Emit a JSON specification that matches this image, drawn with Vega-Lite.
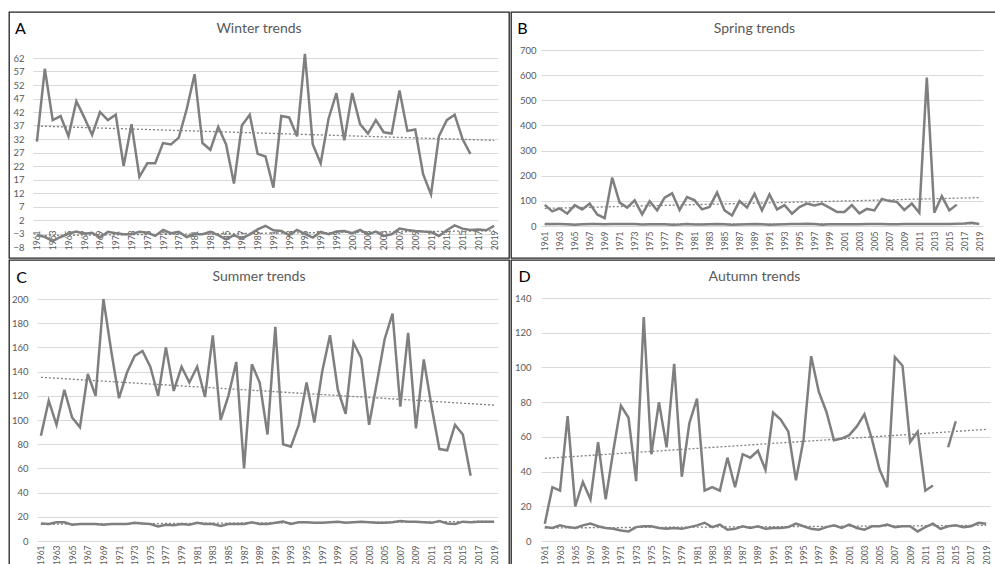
{
"$schema": "https://vega.github.io/schema/vega-lite/v6.json",
"padding": {"left": 8, "top": 11, "right": 0, "bottom": 0},
"background": "white",
"spacing": 0,
"config": {
  "font": "Lato",
  "view": {"stroke": "#222222", "strokeWidth": 1.3},
  "concat": {"spacing": 0},
  "title": {"fontSize": 14, "font": "Lato", "fontWeight": "normal", "color": "#595959", "anchor": "middle"},
  "axis": {"labelFont": "Lato", "labelColor": "#595959", "labelFontSize": 9.5, "ticks": false, "domain": false, "gridColor": "#d9d9d9", "gridWidth": 1, "labelOverlap": false, "labelFlush": false},
  "axisY": {"titleFont": "Lato", "titleFontSize": 16, "titleColor": "#000000", "titleFontWeight": "normal", "titleAlign": "center", "titleBaseline": "middle", "titleAngle": 0},
  "line": {"color": "#808080"}
},
"datasets": {
  "winter": [
{"y":1961,"m":31,"b":-3.5},{"y":1962,"m":58,"b":-4.3},{"y":1963,"m":39,"b":-5.8},{"y":1964,"m":40.5,"b":-4.3},{"y":1965,"m":33,"b":-3.1},{"y":1966,"m":46,"b":-2.3},{"y":1967,"m":40,"b":-3.1},{"y":1968,"m":33.5,"b":-2.7},{"y":1969,"m":42,"b":-4.5},{"y":1970,"m":39,"b":-2.4},
{"y":1971,"m":41,"b":-2.9},{"y":1972,"m":22,"b":-3.3},{"y":1973,"m":37.5,"b":-3.3},{"y":1974,"m":18,"b":-2.4},{"y":1975,"m":23,"b":-2.7},{"y":1976,"m":23,"b":-3.9},{"y":1977,"m":30.5,"b":-1.7},{"y":1978,"m":30,"b":-2.9},{"y":1979,"m":32.5,"b":-2.4},{"y":1980,"m":43,"b":-4.3},
{"y":1981,"m":56,"b":-3.3},{"y":1982,"m":30.5,"b":-3.3},{"y":1983,"m":28,"b":-2.4},{"y":1984,"m":36.5,"b":-3.6},{"y":1985,"m":30,"b":-5.2},{"y":1986,"m":15.5,"b":-3.6},{"y":1987,"m":37,"b":-4.8},{"y":1988,"m":41,"b":-3.3},{"y":1989,"m":26.5,"b":-1.5},{"y":1990,"m":25.5,"b":-0.2},
{"y":1991,"m":14,"b":-1.8},{"y":1992,"m":40.5,"b":-2.1},{"y":1993,"m":40,"b":-3.6},{"y":1994,"m":33,"b":-1.7},{"y":1995,"m":63.5,"b":-3.1},{"y":1996,"m":30,"b":-4.5},{"y":1997,"m":23,"b":-2.4},{"y":1998,"m":39.5,"b":-3.3},{"y":1999,"m":49,"b":-2.3},{"y":2000,"m":31.5,"b":-2.1},
{"y":2001,"m":49,"b":-2.9},{"y":2002,"m":37.5,"b":-1.7},{"y":2003,"m":34,"b":-3.3},{"y":2004,"m":39,"b":-2.3},{"y":2005,"m":34.5,"b":-3.9},{"y":2006,"m":34,"b":-3.3},{"y":2007,"m":50,"b":-1.2},{"y":2008,"m":35,"b":-1.7},{"y":2009,"m":35.5,"b":-2.1},{"y":2010,"m":19,"b":-2.3},
{"y":2011,"m":11.5,"b":-2.4},{"y":2012,"m":33,"b":-3.9},{"y":2013,"m":39,"b":-1.8},{"y":2014,"m":41,"b":0},{"y":2015,"m":32,"b":-1.2},{"y":2016,"m":26.5,"b":-1.7},{"y":2017,"m":null,"b":-1.5},{"y":2018,"m":null,"b":-1.8},{"y":2019,"m":null,"b":-0.2}
  ],
  "winterT": [{"y":1961,"m":36.8,"b":-3.8},{"y":2019,"m":31.5,"b":-2.0}],
  "spring": [
{"y":1961,"m":84,"b":8},{"y":1962,"m":58,"b":8},{"y":1963,"m":70,"b":8},{"y":1964,"m":49,"b":7},{"y":1965,"m":83,"b":5},{"y":1966,"m":66,"b":7},{"y":1967,"m":89,"b":8},{"y":1968,"m":46,"b":8},{"y":1969,"m":31,"b":7},{"y":1970,"m":192,"b":8},
{"y":1971,"m":93,"b":8},{"y":1972,"m":73,"b":8},{"y":1973,"m":102,"b":8},{"y":1974,"m":46,"b":6},{"y":1975,"m":99,"b":7},{"y":1976,"m":62,"b":7},{"y":1977,"m":113,"b":7},{"y":1978,"m":130,"b":5},{"y":1979,"m":64,"b":6},{"y":1980,"m":115,"b":8},
{"y":1981,"m":102,"b":6},{"y":1982,"m":66,"b":6},{"y":1983,"m":76,"b":7},{"y":1984,"m":133,"b":8},{"y":1985,"m":62,"b":7},{"y":1986,"m":42,"b":5},{"y":1987,"m":99,"b":6},{"y":1988,"m":73,"b":7},{"y":1989,"m":128,"b":8},{"y":1990,"m":62,"b":7},
{"y":1991,"m":126,"b":5},{"y":1992,"m":66,"b":6},{"y":1993,"m":83,"b":7},{"y":1994,"m":49,"b":8},{"y":1995,"m":75,"b":8},{"y":1996,"m":89,"b":9},{"y":1997,"m":82,"b":8},{"y":1998,"m":89,"b":5},{"y":1999,"m":73,"b":7},{"y":2000,"m":56,"b":7},
{"y":2001,"m":56,"b":7},{"y":2002,"m":83,"b":7},{"y":2003,"m":50,"b":7},{"y":2004,"m":68,"b":8},{"y":2005,"m":62,"b":8},{"y":2006,"m":108,"b":8},{"y":2007,"m":99,"b":7},{"y":2008,"m":96,"b":7},{"y":2009,"m":64,"b":8},{"y":2010,"m":89,"b":8},
{"y":2011,"m":53,"b":8},{"y":2012,"m":590,"b":8},{"y":2013,"m":53,"b":8},{"y":2014,"m":119,"b":8},{"y":2015,"m":62,"b":8},{"y":2016,"m":85,"b":9},{"y":2017,"m":null,"b":10},{"y":2018,"m":null,"b":13},{"y":2019,"m":null,"b":8}
  ],
  "springT": [{"y":1961,"m":70,"b":6},{"y":2019,"m":113,"b":9}],
  "summer": [
{"y":1961,"m":87,"b":14.5},{"y":1962,"m":116,"b":14},{"y":1963,"m":96,"b":15.5},{"y":1964,"m":125,"b":15.5},{"y":1965,"m":102,"b":13.5},{"y":1966,"m":94,"b":14},{"y":1967,"m":138,"b":14},{"y":1968,"m":120,"b":14},{"y":1969,"m":200,"b":13.5},{"y":1970,"m":157,"b":14},
{"y":1971,"m":118,"b":14},{"y":1972,"m":139,"b":14},{"y":1973,"m":153,"b":15},{"y":1974,"m":157,"b":14.5},{"y":1975,"m":144,"b":14},{"y":1976,"m":120,"b":12},{"y":1977,"m":160,"b":13.5},{"y":1978,"m":124,"b":13},{"y":1979,"m":144,"b":14},{"y":1980,"m":131,"b":13.5},
{"y":1981,"m":144,"b":15},{"y":1982,"m":119,"b":14},{"y":1983,"m":170,"b":14},{"y":1984,"m":100,"b":12.5},{"y":1985,"m":120,"b":14},{"y":1986,"m":148,"b":14},{"y":1987,"m":60,"b":14},{"y":1988,"m":146,"b":15.5},{"y":1989,"m":131,"b":14},{"y":1990,"m":88,"b":14},
{"y":1991,"m":177,"b":15},{"y":1992,"m":80,"b":16},{"y":1993,"m":78,"b":14},{"y":1994,"m":96,"b":15.5},{"y":1995,"m":131,"b":15.5},{"y":1996,"m":98,"b":15},{"y":1997,"m":140,"b":15},{"y":1998,"m":170,"b":15.5},{"y":1999,"m":125,"b":16},{"y":2000,"m":105,"b":15},
{"y":2001,"m":164,"b":15.5},{"y":2002,"m":151,"b":16},{"y":2003,"m":96,"b":15.5},{"y":2004,"m":131,"b":15},{"y":2005,"m":167,"b":15},{"y":2006,"m":188,"b":15.5},{"y":2007,"m":111,"b":16.5},{"y":2008,"m":172,"b":16},{"y":2009,"m":93,"b":16},{"y":2010,"m":150,"b":15.5},
{"y":2011,"m":111,"b":15},{"y":2012,"m":76,"b":16.5},{"y":2013,"m":75,"b":14.5},{"y":2014,"m":96,"b":14},{"y":2015,"m":88,"b":16},{"y":2016,"m":54,"b":15.5},{"y":2017,"m":null,"b":16},{"y":2018,"m":null,"b":16},{"y":2019,"m":null,"b":16}
  ],
  "summerT": [{"y":1961,"m":135.3,"b":13.8},{"y":2019,"m":112.3,"b":16.2}],
  "autumn": [
{"y":1961,"m":10,"b":8},{"y":1962,"m":31,"b":7.5},{"y":1963,"m":29,"b":9},{"y":1964,"m":72,"b":8},{"y":1965,"m":20,"b":7.5},{"y":1966,"m":34,"b":9},{"y":1967,"m":24,"b":10},{"y":1968,"m":57,"b":8.5},{"y":1969,"m":24,"b":7.5},{"y":1970,"m":52,"b":7},
{"y":1971,"m":78,"b":6},{"y":1972,"m":71,"b":5.5},{"y":1973,"m":34.5,"b":8},{"y":1974,"m":129,"b":8.5},{"y":1975,"m":50,"b":8.5},{"y":1976,"m":80,"b":7.5},{"y":1977,"m":54,"b":7},{"y":1978,"m":102,"b":7.5},{"y":1979,"m":37,"b":7},{"y":1980,"m":68,"b":8},
{"y":1981,"m":82,"b":9},{"y":1982,"m":29,"b":10.5},{"y":1983,"m":31,"b":8},{"y":1984,"m":29,"b":9.5},{"y":1985,"m":48,"b":6.5},{"y":1986,"m":31,"b":7},{"y":1987,"m":50,"b":8.5},{"y":1988,"m":48,"b":7.5},{"y":1989,"m":52,"b":8.5},{"y":1990,"m":41,"b":7},
{"y":1991,"m":74,"b":7.5},{"y":1992,"m":70,"b":7.5},{"y":1993,"m":63,"b":8},{"y":1994,"m":35,"b":10},{"y":1995,"m":58.5,"b":8.5},{"y":1996,"m":106.5,"b":7},{"y":1997,"m":86,"b":6.5},{"y":1998,"m":74.5,"b":8},{"y":1999,"m":58,"b":9},{"y":2000,"m":59,"b":7.5},
{"y":2001,"m":61,"b":9.5},{"y":2002,"m":66,"b":7.5},{"y":2003,"m":73,"b":6.5},{"y":2004,"m":58.5,"b":8.5},{"y":2005,"m":41,"b":8.5},{"y":2006,"m":31,"b":9.5},{"y":2007,"m":106,"b":8},{"y":2008,"m":101,"b":8.5},{"y":2009,"m":57,"b":8.5},{"y":2010,"m":63,"b":5.5},
{"y":2011,"m":29,"b":8},{"y":2012,"m":32,"b":10},{"y":2013,"m":null,"b":7},{"y":2014,"m":54,"b":8.5},{"y":2015,"m":69,"b":9},{"y":2016,"m":null,"b":8},{"y":2017,"m":null,"b":8.5},{"y":2018,"m":null,"b":10.5},{"y":2019,"m":null,"b":10}
  ],
  "autumnT": [{"y":1961,"m":47.6,"b":7.5},{"y":2019,"m":64.3,"b":9}]
},
"vconcat": [
 {"hconcat": [
  {
   "width": 500, "height": 246,
   "title": {"text": "Winter trends", "offset": -24},
   "encoding": {
     "x": {"field": "y", "type": "quantitative", "scale": {"domain": [1960.5, 2019.5], "range": [24, 489], "nice": false, "zero": false},
           "axis": {"values": [1961,1963,1965,1967,1969,1971,1973,1975,1977,1979,1981,1983,1985,1987,1989,1991,1993,1995,1997,1999,2001,2003,2005,2007,2009,2011,2013,2015,2017,2019], "format": "d", "labelAngle": -90, "grid": false, "offset": -30, "labelPadding": 2, "title": null, "labelFontSize": 8.5}},
     "y": {"field": "v", "type": "quantitative", "scale": {"domain": [-8, 62], "range": [235, 46], "nice": false, "zero": false},
           "axis": {"values": [-8,-3,2,7,12,17,22,27,32,37,42,47,52,57,62], "grid": true, "offset": -20, "labelPadding": 5, "title": "A", "titleX": -9, "titleY": 16}},
     "detail": {"field": "s"}
   },
   "layer": [
     {"data": {"name": "winter"}, "transform": [{"fold": ["m", "b"], "as": ["s", "v"]}], "mark": {"type": "line", "color": "#7f7f7f", "strokeWidth": 2.5}},
     {"data": {"name": "winterT"}, "transform": [{"fold": ["m", "b"], "as": ["s", "v"]}], "mark": {"type": "line", "color": "#808080", "strokeWidth": 1.3, "strokeDash": [2, 2]}}
   ]
  },
  {
   "width": 487, "height": 246,
   "title": {"text": "Spring trends", "offset": -24},
   "encoding": {
     "x": {"field": "y", "type": "quantitative", "scale": {"domain": [1960.5, 2019.5], "range": [30, 472], "nice": false, "zero": false},
           "axis": {"values": [1961,1963,1965,1967,1969,1971,1973,1975,1977,1979,1981,1983,1985,1987,1989,1991,1993,1995,1997,1999,2001,2003,2005,2007,2009,2011,2013,2015,2017,2019], "format": "d", "labelAngle": -90, "grid": false, "offset": -29, "labelPadding": 2, "title": null, "labelFontSize": 8.5}},
     "y": {"field": "v", "type": "quantitative", "scale": {"domain": [0, 700], "range": [214, 38], "nice": false, "zero": false},
           "axis": {"values": [0,100,200,300,400,500,600,700], "grid": true, "offset": -30, "labelPadding": 5, "title": "B", "titleX": -19, "titleY": 16}},
     "detail": {"field": "s"}
   },
   "layer": [
     {"data": {"name": "spring"}, "transform": [{"fold": ["m", "b"], "as": ["s", "v"]}], "mark": {"type": "line", "color": "#7f7f7f", "strokeWidth": 2.5}},
     {"data": {"name": "springT"}, "transform": [{"fold": ["m", "b"], "as": ["s", "v"]}], "mark": {"type": "line", "color": "#808080", "strokeWidth": 1.3, "strokeDash": [2, 2]}}
   ]
  }
 ]},
 {"hconcat": [
  {
   "width": 500, "height": 307,
   "title": {"text": "Summer trends", "offset": -24},
   "encoding": {
     "x": {"field": "y", "type": "quantitative", "scale": {"domain": [1960.5, 2019.5], "range": [28, 489], "nice": false, "zero": false},
           "axis": {"values": [1961,1963,1965,1967,1969,1971,1973,1975,1977,1979,1981,1983,1985,1987,1989,1991,1993,1995,1997,1999,2001,2003,2005,2007,2009,2011,2013,2015,2017,2019], "format": "d", "labelAngle": -90, "grid": false, "offset": -24, "labelPadding": 2, "title": null, "labelFontSize": 8.5}},
     "y": {"field": "v", "type": "quantitative", "scale": {"domain": [0, 200], "range": [281, 39], "nice": false, "zero": false},
           "axis": {"values": [0,20,40,60,80,100,120,140,160,180,200], "grid": true, "offset": -24, "labelPadding": 5, "title": "C", "titleX": -12, "titleY": 17}},
     "detail": {"field": "s"}
   },
   "layer": [
     {"data": {"name": "summer"}, "transform": [{"fold": ["m", "b"], "as": ["s", "v"]}], "mark": {"type": "line", "color": "#7f7f7f", "strokeWidth": 2.5}},
     {"data": {"name": "summerT"}, "transform": [{"fold": ["m", "b"], "as": ["s", "v"]}], "mark": {"type": "line", "color": "#808080", "strokeWidth": 1.3, "strokeDash": [2, 2]}}
   ]
  },
  {
   "width": 487, "height": 307,
   "title": {"text": "Autumn trends", "offset": -24},
   "encoding": {
     "x": {"field": "y", "type": "quantitative", "scale": {"domain": [1960.5, 2019.5], "range": [30, 479], "nice": false, "zero": false},
           "axis": {"values": [1961,1963,1965,1967,1969,1971,1973,1975,1977,1979,1981,1983,1985,1987,1989,1991,1993,1995,1997,1999,2001,2003,2005,2007,2009,2011,2013,2015,2017,2019], "format": "d", "labelAngle": -90, "grid": false, "offset": -24, "labelPadding": 2, "title": null, "labelFontSize": 8.5}},
     "y": {"field": "v", "type": "quantitative", "scale": {"domain": [0, 140], "range": [281, 38], "nice": false, "zero": false},
           "axis": {"values": [0,20,40,60,80,100,120,140], "grid": true, "offset": -25, "labelPadding": 5, "title": "D", "titleX": -12, "titleY": 16}},
     "detail": {"field": "s"}
   },
   "layer": [
     {"data": {"name": "autumn"}, "transform": [{"fold": ["m", "b"], "as": ["s", "v"]}], "mark": {"type": "line", "color": "#7f7f7f", "strokeWidth": 2.5}},
     {"data": {"name": "autumnT"}, "transform": [{"fold": ["m", "b"], "as": ["s", "v"]}], "mark": {"type": "line", "color": "#808080", "strokeWidth": 1.3, "strokeDash": [2, 2]}}
   ]
  }
 ]}
]
}
